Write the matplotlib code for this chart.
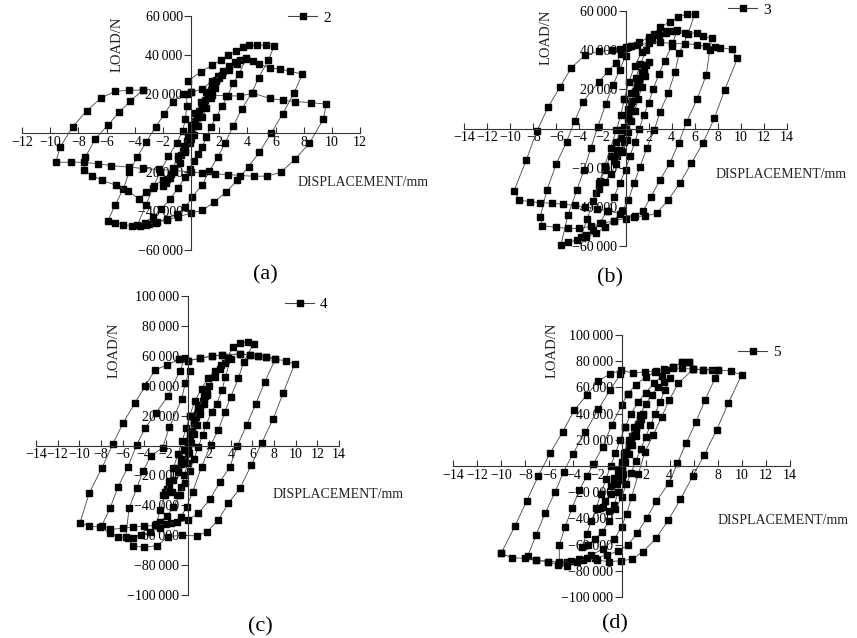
# -*- coding: utf-8 -*-
import matplotlib
matplotlib.use("Agg")
import matplotlib.pyplot as plt
from matplotlib.lines import Line2D

plt.rcParams['font.family'] = ['Liberation Serif', 'DejaVu Serif']
plt.rcParams['axes.unicode_minus'] = True

# ---------------- data: (displacement mm, load N) ----------------
# specimen 2 (a)
a_small = [(0, 0), (0.2, 4000), (0.4, 8000), (0.6, 11500), (0.8, 14500), (1.0, 17000), (1.2, 19500),
           (1.4, 22000), (1.6, 24500), (1.8, 26500), (2.0, 28000), (1.7, 23000), (1.4, 18000),
           (1.1, 13000), (0.8, 8000), (0.5, 3500), (0.2, -1000), (-0.1, -5000), (-0.4, -8500),
           (-0.7, -11500), (-0.9, -13500), (-0.6, -9000), (-0.3, -4000), (0.0, 1000), (0.3, 6000),
           (0.6, 10500), (0.9, 15000), (1.2, 19000), (1.5, 23000), (1.8, 27000)]
a_neg = [(0.0, -3000), (-0.4, -10000), (-0.8, -15500), (-1.2, -20000), (-1.5, -23000), (-1.8, -25500),
         (-2.0, -27000), (-1.7, -23500), (-1.3, -18000), (-0.9, -12000), (-0.5, -6500), (-0.2, -1500)]
a_loop4 = [(0.0, 4000), (0.3, 10000), (0.7, 16000), (1.1, 21000), (1.5, 25000), (1.9, 29000), (2.3, 32000),
           (2.7, 34500), (3.1, 36500), (3.5, 37500), (3.9, 38000), (3.4, 30100), (3.0, 25400), (2.6, 19100),
           (2.2, 13800), (1.8, 8300), (1.4, 2900), (1.1, -2000), (0.8, -7000), (0.5, -11000), (0.2, -14500),
           (-0.1, -18500), (-0.4, -22500), (-0.9, -28000), (-1.5, -34000), (-2.1, -39000), (-2.7, -43000),
           (-3.3, -46000), (-3.8, -47000), (-3.2, -37000), (-2.7, -28000), (-2.2, -20000), (-1.6, -12000),
           (-1.0, -5000), (-0.6, 1000), (-0.4, 7000), (-0.3, 14000), (-0.3, 20000)]
a_loop6 = [(-0.2, 26700), (0.7, 31500), (1.5, 34700), (2.1, 37400), (2.6, 39800), (3.2, 42000), (3.7, 44100),
           (4.1, 44900), (4.7, 45100), (5.3, 45100), (5.9, 44800), (5.5, 37300), (4.8, 28400), (4.3, 20300),
           (3.6, 12300), (3.0, 3600), (2.4, -5300), (1.9, -12400), (1.3, -19600), (0.8, -26500), (0.1, -32800),
           (-0.4, -38000), (-1.0, -41500), (-1.7, -44000), (-2.4, -45500), (-3.0, -46500), (-3.6, -47500),
           (-4.2, -47500), (-4.8, -47000), (-5.4, -46000), (-5.9, -45000), (-5.4, -37100), (-4.8, -28600),
           (-4.4, -20100), (-3.8, -12100), (-3.2, -4800), (-2.5, 3200), (-1.9, 9700), (-1.3, 16000),
           (-0.6, 20000), (0.0, 20800)]
a_loop8 = [(0.0, 20800), (0.8, 22500), (1.5, 26700), (2.2, 29800), (2.7, 32200), (3.3, 35500), (3.9, 38600),
           (4.4, 37000), (4.85, 35200), (5.6, 33500), (6.3, 32700), (7.0, 31800), (7.9, 30100), (7.3, 20300),
           (6.5, 9700), (5.7, 0), (4.85, -9900), (4.1, -17200), (3.3, -24000), (2.5, -30300), (1.65, -35400),
           (0.8, -39700), (0.0, -41000), (-0.9, -43000), (-1.7, -44500), (-2.5, -46000), (-3.2, -47000)]
a_left = [(-1.4, -21000), (-2.0, -24000), (-2.6, -27000), (-3.2, -30500), (-3.7, -33700), (-4.5, -29800),
          (-5.3, -26900), (-6.3, -24300), (-7.0, -21800), (-7.6, -19200), (-7.5, -12400), (-6.8, -3000),
          (-5.9, 4100), (-5.1, 10600), (-4.3, 16500), (-3.4, 22000)]
a_loop10 = [(-3.4, 22000), (-4.4, 22000), (-5.4, 21300), (-6.4, 17900), (-7.4, 11400), (-8.4, 3200),
            (-9.3, -7300), (-9.6, -15000), (-8.5, -15000), (-7.6, -15000), (-6.6, -15800), (-5.7, -16700),
            (-4.4, -17500), (-3.4, -18200), (-2.3, -18700), (-1.2, -19200), (0.0, -20000), (0.8, -20500),
            (1.7, -21000), (2.6, -21300), (3.5, -21800), (4.5, -22200), (5.4, -22100), (6.4, -20100),
            (7.4, -13300), (8.4, -5300), (9.4, 7100), (9.6, 14800), (8.5, 15600), (7.4, 16100), (6.5, 16800),
            (5.6, 17700), (4.4, 20400), (3.5, 19000), (2.5, 19000), (1.5, 19500)]

# specimen 3 (b)
b_small = [(0, 0), (0.2, 5000), (0.4, 10000), (0.6, 14000), (0.8, 18000), (1.0, 22000), (1.2, 25000),
           (1.4, 28000), (1.6, 30500), (1.8, 32500), (2.0, 34000), (1.7, 27000), (1.4, 21000), (1.1, 15000),
           (0.8, 9000), (0.5, 4000), (0.2, -2000), (-0.1, -7000), (-0.4, -11000), (-0.7, -14000),
           (-1.0, -16500), (-0.7, -11000), (-0.4, -5000), (-0.1, 1000), (0.2, 7000), (0.5, 13000),
           (0.8, 19000), (1.1, 24000), (1.4, 29000)]
b_neg = [(0.1, -6000), (-0.3, -12000), (-0.8, -18000), (-1.3, -23000), (-1.8, -27500), (-2.3, -31000),
         (-2.6, -33000), (-2.2, -27000), (-1.8, -21000), (-1.3, -14000), (-0.8, -7000), (-0.4, -1000)]
b_loop4 = [(0.2, 10000), (0.5, 18000), (0.9, 26000), (1.3, 33000), (1.8, 40000), (2.3, 45000), (2.9, 47500),
           (3.5, 49000), (4.1, 50000), (4.5, 50500), (4.0, 42000), (3.4, 34600), (2.9, 28000), (2.4, 20000),
           (2.0, 13000), (1.6, 7000), (1.2, 0), (0.8, -7000), (0.4, -14000), (0.0, -21000), (-0.5, -28000),
           (-1.0, -35000), (-1.6, -42000), (-2.2, -48000), (-2.8, -52000), (-3.4, -54500), (-3.9, -55500),
           (-3.3, -46000), (-2.8, -37000), (-2.3, -28000), (-1.8, -19000), (-1.3, -10000), (-0.8, -1000),
           (-0.4, 7000), (-0.1, 15000)]
b_loop6 = [(-0.1, 15000), (0.3, 24000), (0.8, 32000), (1.4, 39000), (2.0, 45000), (2.5, 48500), (3.0, 51700),
           (3.85, 54500), (4.55, 56800), (5.3, 58500), (6.0, 58500), (5.4, 48000), (4.66, 38700), (4.3, 29000),
           (3.7, 18000), (3.0, 8600), (2.5, -800), (1.84, -10100), (1.26, -19500), (0.74, -28000),
           (0.25, -36500), (-0.3, -42000), (-1.0, -47000), (-1.8, -50500), (-2.6, -53500), (-3.4, -55500),
           (-4.2, -57000), (-5.0, -58000), (-5.6, -59500), (-5.0, -44400), (-4.2, -31200), (-3.6, -21000),
           (-3.0, -10000), (-2.4, 1000), (-1.7, 12600), (-1.1, 22000), (-0.5, 30000), (0.0, 37000), (0.5, 42000)]
b_loop8 = [(0.5, 42000), (1.2, 44000), (2.0, 46500), (2.8, 48500), (3.6, 50000), (4.4, 50000), (5.2, 49000),
           (6.2, 48600), (6.7, 47200), (7.5, 46000), (7.3, 40000), (7.0, 27300), (6.2, 14900), (5.3, 3500),
           (4.6, -7600), (3.86, -17500), (3.0, -26300), (2.2, -34800), (1.54, -42000), (0.8, -44500),
           (0.0, -46000), (-1.0, -47000), (-2.0, -48500), (-3.0, -50000), (-4.0, -51000), (-5.0, -51000),
           (-6.0, -50500), (-7.2, -49600), (-7.4, -45300), (-6.8, -31200), (-6.0, -18100), (-5.1, -6700),
           (-4.4, 3900), (-3.7, 13500), (-2.3, 24000), (-1.5, 29300), (-0.8, 33700), (-0.4, 38000), (0.0, 41000)]
b_loop10 = [(0.0, 41500), (1.0, 42500), (2.0, 43500), (3.0, 44000), (4.0, 43500), (5.2, 43300), (6.2, 42800),
            (7.0, 42000), (7.75, 41800), (8.2, 41300), (9.2, 40400), (9.7, 35800), (8.6, 19700), (7.7, 5200),
            (6.7, -7600), (5.7, -17800), (4.7, -28000), (3.7, -36500), (2.7, -43300), (1.7, -44700),
            (0.7, -45000), (-0.5, -43500), (-1.5, -42000), (-2.5, -41000), (-3.5, -40000), (-4.4, -39300),
            (-5.4, -38600), (-6.4, -38200), (-7.4, -37900), (-8.3, -37400), (-9.2, -36500), (-9.66, -31800),
            (-8.6, -16100), (-7.7, -1500), (-6.7, 11000), (-5.7, 21000), (-4.7, 31000), (-3.5, 37500),
            (-2.3, 39500), (-1.2, 40000), (-0.5, 40700), (0.2, 41600)]

# specimen 4 (c)
c_small = [(0, 0), (0.2, 5000), (0.4, 10000), (0.6, 15000), (0.8, 19000), (1.0, 23000), (1.2, 27000),
           (1.4, 30000), (1.6, 33000), (1.8, 35000), (1.5, 28000), (1.2, 21000), (0.9, 14000), (0.6, 8000),
           (0.3, 2000), (0, -4000), (-0.3, -9000), (-0.6, -12500), (-0.9, -15000), (-0.6, -9000),
           (-0.3, -3000), (0, 3000), (0.3, 9000), (0.6, 15000), (0.9, 21000), (1.2, 26000), (1.5, 31000),
           (1.8, 34000)]
c_neg = [(0.1, -5000), (-0.4, -12000), (-0.9, -18000), (-1.3, -23000), (-1.7, -28000), (-2.1, -31000),
         (-2.3, -33000), (-1.9, -29000), (-1.4, -31000), (-1.0, -33000), (-0.6, -28000), (-0.3, -20000),
         (0, -12000)]
c_loop4 = [(0.2, 8000), (0.6, 17000), (1.0, 25000), (1.5, 33000), (2.0, 40000), (2.5, 46000), (3.0, 51000),
           (3.5, 55000), (4.0, 58000), (3.5, 46000), (3.2, 37100), (2.7, 28000), (2.24, 22600), (1.7, 13700),
           (1.4, 7000), (1.0, -1000), (0.6, -9000), (0.2, -17000), (-0.2, -25000), (-0.7, -33000),
           (-1.3, -41000), (-1.9, -47000), (-2.5, -51000), (-2.9, -52500), (-2.5, -43000), (-2.1, -33000),
           (-1.7, -24000), (-1.3, -15000), (-0.9, -6000), (-0.5, 3000), (-0.1, 12000), (0.2, 20000)]
c_loop6 = [(0.2, 20000), (0.7, 30000), (1.3, 38000), (1.9, 45000), (2.5, 50000), (3.1, 54000), (3.7, 59000),
           (4.2, 66100), (4.85, 68400), (5.6, 69400), (6.1, 67900), (5.2, 56000), (4.7, 45000), (4.0, 32700),
           (3.47, 22600), (2.85, 10400), (2.15, 300), (1.3, -14200), (0.48, -30900), (-0.07, -40900),
           (-0.6, -48000), (-1.5, -52000), (-2.5, -55000), (-3.5, -58000), (-4.3, -60000), (-5.0, -62000),
           (-5.7, -61000), (-5.4, -42000), (-4.7, -28600), (-4.1, -17000), (-3.4, -7000), (-2.3, -1500),
           (-1.68, 12200), (-0.54, 30900), (-0.2, 42000), (0.2, 50000)]
c_loop8 = [(0.08, 56700), (1.16, 58300), (2.24, 59900), (3.2, 60500), (4.85, 61200), (5.8, 60500),
           (6.5, 59900), (7.3, 59400), (8.1, 57700), (7.16, 42700), (6.3, 27800), (5.47, 13700), (4.6, -300),
           (3.9, -14600), (3.0, -24200), (2.08, -36000), (1.0, -45400), (0.0, -50000), (-1.0, -51500),
           (-2.0, -52500), (-3.0, -53500), (-4.0, -54000), (-5.0, -54500), (-6.0, -55500), (-7.2, -56000),
           (-7.93, -53800), (-7.16, -42000), (-6.4, -27500), (-5.5, -14200), (-4.7, 300), (-3.93, 11500),
           (-2.9, 22000), (-1.8, 33100), (-0.7, 50000), (-0.23, 58300)]
c_loop10 = [(-0.76, 57700), (0.08, 56700), (1.16, 58300), (2.24, 59900), (3.2, 60500), (4.85, 61200),
            (5.8, 60500), (6.5, 59900), (7.3, 59400), (8.1, 57700), (9.1, 56700), (9.9, 54500), (8.85, 35300),
            (7.9, 17500), (6.86, 1900), (5.9, -13000), (4.85, -28600), (3.77, -38700), (2.85, -49800),
            (1.83, -57600), (0.85, -60500), (-0.5, -60000), (-1.8, -61000), (-2.85, -67200), (-4.0, -67800),
            (-5.0, -67500), (-5.47, -62100), (-6.4, -61000), (-7.2, -58300), (-8.1, -54700), (-9.07, -53800),
            (-9.93, -51600), (-9.07, -31600), (-7.93, -15300), (-6.9, 1000), (-5.93, 15300), (-4.85, 28600),
            (-3.9, 40000), (-3.0, 50500), (-1.92, 53800), (-0.76, 57700)]

# specimen 5 (d)
d_small = [(0, 0), (0.2, 6000), (0.4, 11000), (0.6, 16000), (0.8, 20000), (1.0, 24000), (1.2, 28000),
           (1.4, 32000), (1.6, 36000), (1.8, 39000), (1.5, 31000), (1.2, 23000), (0.9, 16000), (0.6, 9000),
           (0.3, 3000), (0, -3000), (-0.3, -8000), (-0.6, -12000), (-0.9, -15000), (-0.6, -9000),
           (-0.3, -3000), (0, 3000), (0.3, 10000), (0.6, 17000), (0.9, 23000), (1.2, 29000), (1.5, 35000),
           (1.8, 40000)]
d_neg = [(0.1, -6000), (-0.4, -14000), (-0.9, -21000), (-1.4, -27000), (-1.8, -32000), (-2.0, -33000),
         (-1.5, -31000), (-1.0, -34000), (-0.6, -30000), (-0.3, -20000), (0, -11000)]
d_loop4 = [(0.2, 10000), (0.6, 20000), (1.0, 30000), (1.5, 39000), (2.0, 47000), (2.5, 54000), (3.0, 60000),
           (3.5, 64000), (4.0, 67000), (3.6, 58000), (3.2, 49000), (2.8, 40000), (2.4, 31000), (2.0, 22000),
           (1.6, 13000), (1.2, 4000), (0.8, -5000), (0.4, -14000), (0.0, -24000), (-0.5, -33000),
           (-1.0, -42000), (-1.6, -50000), (-2.2, -56000), (-2.8, -60000), (-3.3, -62000), (-2.9, -52000),
           (-2.5, -42000), (-2.1, -32000), (-1.7, -21000), (-1.3, -10000), (-0.9, 0), (-0.5, 10000),
           (-0.1, 20000), (0.3, 30000)]
d_loop6 = [(0.3, 30000), (0.8, 40000), (1.4, 49000), (2.0, 56000), (2.7, 63000), (3.4, 69000), (4.3, 75800),
           (5.0, 79100), (5.6, 79100), (5.96, 74000), (4.72, 63100), (3.97, 50400), (3.34, 37600),
           (2.64, 23700), (1.95, 10900), (1.4, -6000), (0.85, -23400), (0.43, -36600), (0.0, -46300),
           (-0.6, -56000), (-1.5, -63000), (-2.5, -68000), (-3.5, -71000), (-4.5, -73000), (-5.17, -74000),
           (-5.17, -60300), (-4.7, -46800), (-4.1, -32000), (-3.5, -18300), (-2.9, -8000), (-2.34, 1500),
           (-1.56, 14700), (-0.81, 31300), (0.02, 46600), (0.5, 55000)]
d_loop8 = [(0.5, 55000), (1.2, 62000), (2.0, 68000), (2.8, 72000), (3.5, 74000), (4.3, 75000), (5.0, 74500),
           (5.96, 74000), (6.8, 73500), (7.5, 73500), (8.04, 73300), (7.77, 66900), (6.94, 50400),
           (6.2, 33800), (5.36, 17300), (4.64, 2000), (3.97, -12700), (2.9, -26700), (2.1, -39500),
           (1.31, -51400), (0.51, -60300), (-0.3, -65000), (-1.2, -68000), (-2.2, -70000), (-3.2, -71500),
           (-4.2, -72500), (-5.2, -73000), (-6.1, -73000), (-7.1, -71800), (-7.8, -69000), (-7.1, -52700),
           (-6.35, -36100), (-5.5, -19600), (-4.8, -4200), (-4.05, 9200), (-3.0, 26000), (-1.93, 43300),
           (-0.95, 58000), (-0.1, 70000)]
d_loop10 = [(-10.0, -66600), (-8.85, -45800), (-7.87, -26500), (-6.9, -7400), (-5.94, 9700), (-4.88, 26200),
            (-3.92, 42700), (-2.89, 54200), (-1.93, 65100), (-0.95, 70200), (-0.04, 73300), (0.98, 70800),
            (1.95, 72000), (2.9, 72500), (3.7, 73300), (4.3, 75800), (5.0, 79100), (5.6, 79100), (5.96, 74000),
            (6.8, 73500), (8.04, 73300), (9.07, 72500), (9.98, 69500), (8.87, 47900), (7.9, 27500),
            (6.88, 8400), (5.9, -8000), (4.9, -25400), (3.9, -41200), (2.87, -55200), (1.8, -65400),
            (0.85, -71200), (-0.07, -72300), (-1.0, -73000), (-2.0, -72000), (-2.89, -70500), (-3.72, -73000),
            (-4.55, -76300), (-5.25, -75600), (-6.08, -73000), (-7.1, -71800), (-8.0, -70500), (-9.1, -70000),
            (-10.0, -66600)]

ticks_a = list(range(-12, 13, 2))
ticks_bcd = list(range(-14, 15, 2))
yt_60 = [-60000, -40000, -20000, 20000, 40000, 60000]
yt_100 = [-100000, -80000, -60000, -40000, -20000, 20000, 40000, 60000, 80000, 100000]

W, H = 857, 638
fig = plt.figure(figsize=(W / 100, H / 100), dpi=100)


def px_axes(x0, x1, ytop, ybot):
    # axes placed by pixel corners of the data range
    return fig.add_axes([x0 / W, 1 - ybot / H, (x1 - x0) / W, (ybot - ytop) / H])


def fmt(v):
    s = '{:,}'.format(abs(v)).replace(',', '\u2009')
    return ('\u2212' + s) if v < 0 else s


def panel(ax, loops, xt, yt, name, leg_xy, load_xy, disp_xy, tag_xy, tag):
    for lp in loops:
        xs, ys = zip(*lp)
        ax.plot(xs, ys, color='#444444', lw=0.6, marker='s', ms=4.4,
                mfc='black', mec='black', clip_on=False)
    ax.set_xlim(xt[0], xt[-1])
    ax.set_ylim(yt[0], yt[-1])
    ax.patch.set_visible(False)
    for s in ['top', 'right']:
        ax.spines[s].set_visible(False)
    ax.spines['left'].set_position(('data', 0))
    ax.spines['bottom'].set_position(('data', 0))
    for s in ['left', 'bottom']:
        ax.spines[s].set_linewidth(0.8)
        ax.spines[s].set_color('#333333')
    ax.set_xticks(xt)
    ax.set_xticklabels([('\u2212%d' % -t) if t < 0 else '%d' % t for t in xt])
    ax.set_yticks(yt)
    ax.set_yticklabels([fmt(v) for v in yt])
    ax.tick_params(axis='x', direction='in', length=4, width=0.8, labelsize=10, pad=2, color='#333333')
    ax.tick_params(axis='y', direction='out', length=5, width=0.8, labelsize=10, pad=1, color='#333333')
    h = Line2D([], [], color='#444444', lw=0.8, marker='s', ms=4.4, mfc='black', mec='black')
    ax.legend([h], [name], loc='center left', bbox_to_anchor=(leg_xy[0] / W, 1 - leg_xy[1] / H),
              bbox_transform=fig.transFigure, frameon=False, fontsize=11, handlelength=1.9,
              handletextpad=0.4, borderpad=0, borderaxespad=0)
    fig.text(load_xy[0] / W, 1 - load_xy[1] / H, 'LOAD/N', rotation=90, fontsize=10.5,
             ha='center', va='center', color='#222222')
    fig.text(disp_xy[0] / W, 1 - disp_xy[1] / H, 'DISPLACEMENT/mm', fontsize=10,
             ha='left', va='center', color='#222222')
    fig.text(tag_xy[0] / W, 1 - tag_xy[1] / H, tag, fontsize=16, ha='center', va='center')


ax_a = px_axes(22, 360, 16, 250)
panel(ax_a, [a_small, a_neg, a_loop4, a_loop6, a_loop8, a_left, a_loop10], ticks_a, yt_60, '2',
      (288, 18), (117, 44), (298, 182), (265, 275), '(a)')

ax_b = px_axes(464, 787, 11, 246)
panel(ax_b, [b_small, b_neg, b_loop4, b_loop6, b_loop8, b_loop10], ticks_bcd, yt_60, '3',
      (728, 10), (546, 37), (716, 175), (610, 278), '(b)')

ax_c = px_axes(36, 339, 296, 595)
panel(ax_c, [c_small, c_neg, c_loop4, c_loop6, c_loop8, c_loop10], ticks_bcd, yt_100, '4',
      (285, 304), (114, 350), (273, 494), (260, 627), '(c)')

ax_d = px_axes(453, 790, 335, 597)
panel(ax_d, [d_small, d_neg, d_loop4, d_loop6, d_loop8, d_loop10], ticks_bcd, yt_100, '5',
      (738, 352), (552, 350), (718, 520), (615, 624), '(d)')

fig.savefig('out.png', dpi=100)
